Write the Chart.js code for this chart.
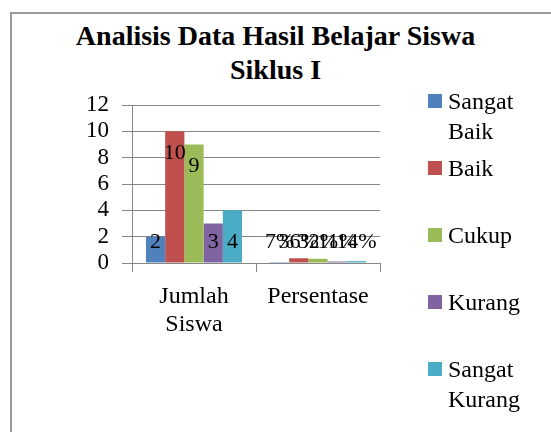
<!DOCTYPE html>
<html>
<head>
<meta charset="utf-8">
<script src="https://cdn.jsdelivr.net/npm/chart.js@4/dist/chart.umd.min.js"></script>
<style>
  html, body { margin: 0; padding: 0; background: #fff; }
  #wrap { position: relative; width: 551px; height: 432px; overflow: hidden; font-family: "Liberation Serif", "Times New Roman", Times, "DejaVu Serif", serif; }
  #frame { position: absolute; left: 10px; top: 12px; width: 560px; height: 440px; border: 2px solid #999; }
  #title { position: absolute; left: 0; top: 19px; width: 551px; text-align: center; font-weight: bold; font-size: 28px; line-height: 34px; color: #000; }
  #chart { position: absolute; left: 0; top: 0; }
  .lg { position: absolute; left: 428px; font-size: 24px; line-height: 30px; color: #000; }
  .lg .sw { position: absolute; left: 0; top: 8px; width: 14px; height: 14px; }
  .lg .tx { position: absolute; left: 20px; top: 0; white-space: nowrap; }
</style>
</head>
<body>
<div id="wrap">
  <div id="frame"></div>
  <div id="title">Analisis Data Hasil Belajar Siswa<br>Siklus I</div>
  <canvas id="chart" width="551" height="432"></canvas>
</div>
<script>
// Data
const categories = [['Jumlah', 'Siswa'], 'Persentase'];
const seriesNames = ['Sangat Baik', 'Baik', 'Cukup', 'Kurang', 'Sangat Kurang'];
const legendLines = [['Sangat', 'Baik'], ['Baik'], ['Cukup'], ['Kurang'], ['Sangat', 'Kurang']];
const jumlahSiswa = [2, 10, 9, 3, 4];
const persentase = [0.07, 0.36, 0.32, 0.11, 0.14];
const yMin = 0, yMax = 12, yStep = 2;

const colors = ['#4F81BD', '#C0504D', '#9BBB59', '#8064A2', '#4BACC6'];
const axisGray = '#868686';
const serif = '"Liberation Serif", "Times New Roman", Times, "DejaVu Serif", serif';

// Labels inside the bars, like the original
const barLabels = {
    id: 'barLabels',
    afterDatasetsDraw(chart) {
        const ctx = chart.ctx;
        const y = chart.scales.y;
        ctx.save();
        ctx.font = '22px ' + serif;
        ctx.fillStyle = '#000';
        ctx.textAlign = 'center';
        ctx.textBaseline = 'middle';
        chart.data.datasets.forEach((ds, di) => {
            chart.getDatasetMeta(di).data.forEach((bar, i) => {
                const v = ds.data[i];
                const text = i === 0 ? String(v) : Math.round(v * 100) + '%';
                const py = v > 5 ? bar.y + 22 : y.getPixelForValue(1.6);
                ctx.fillText(text, bar.x, py);
            });
        });
        ctx.restore();
    }
};

const ctx = document.getElementById('chart').getContext('2d');
const chart = new Chart(ctx, {
    type: 'bar',
    data: {
        labels: categories,
        datasets: seriesNames.map((name, i) => ({
            label: name,
            data: [jumlahSiswa[i], persentase[i]],
            backgroundColor: colors[i],
            borderWidth: 0,
            categoryPercentage: 0.775,
            barPercentage: 1
        }))
    },
    options: {
        responsive: false,
        animation: false,
        layout: { padding: { left: 10, right: 171, top: 105, bottom: 0 } },
        plugins: {
            legend: { display: false },
            title: { display: false },
            tooltip: { enabled: false }
        },
        scales: {
            x: {
                offset: true,
                grid: { drawOnChartArea: false, color: axisGray, tickLength: 9 },
                border: { color: axisGray },
                ticks: { color: '#000', font: { family: serif, size: 24 }, padding: 10, maxRotation: 0 },
                afterFit: s => { s.height = 169; }
            },
            y: {
                min: yMin,
                max: yMax,
                ticks: { stepSize: yStep, autoSkip: false, color: '#000', font: { family: serif, size: 23 }, padding: 13 },
                grid: { color: axisGray, tickLength: 10 },
                border: { color: axisGray },
                afterFit: s => { s.width = 122; }
            }
        }
    },
    plugins: [barLabels]
});

// Legend on the right
const wrap = document.getElementById('wrap');
seriesNames.forEach((name, i) => {
    const item = document.createElement('div');
    item.className = 'lg';
    item.style.top = (101 + 67 * i - 15) + 'px';
    item.innerHTML = '<span class="sw" style="background:' + colors[i] + '"></span>' +
        '<span class="tx">' + legendLines[i].join('<br>') + '</span>';
    wrap.appendChild(item);
});
</script>
</body>
</html>
